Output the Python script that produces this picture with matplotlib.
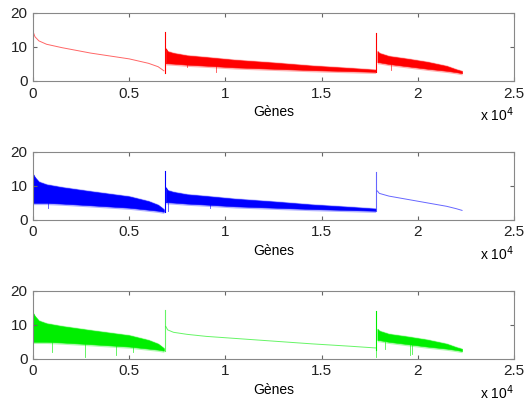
import numpy as np
import matplotlib
matplotlib.use('Agg')
from matplotlib import pyplot as plt

plt.rcParams['font.family'] = ['Liberation Sans', 'DejaVu Sans']

# segment 1 (genes 0 .. 6800)
seg1_x = [0, 100, 300, 700, 1500, 3000, 5000, 6000, 6500, 6800]
seg1_mid = [14.5, 13.0, 11.8, 10.8, 9.8, 8.2, 6.5, 5.2, 4.2, 3.0]
seg1_hi = [13.5, 12.5, 11.2, 10.4, 9.6, 8.4, 6.9, 5.5, 4.4, 3.1]
seg1_lo = [5.0, 5.0, 5.0, 5.0, 4.8, 4.3, 3.6, 3.0, 2.7, 2.4]

# segment 2 (genes 6850 .. 17800)
seg2_x = [6900, 7000, 7300, 8000, 9000, 10500, 12500, 14500, 16500, 17800]
seg2_mid = [9.5, 8.5, 7.8, 7.2, 6.6, 6.0, 5.2, 4.4, 3.7, 3.2]
seg2_hi = [9.6, 8.7, 8.2, 7.5, 7.0, 6.2, 5.4, 4.5, 3.8, 3.3]
seg2_lo = [5.2, 5.2, 5.1, 4.8, 4.5, 4.0, 3.6, 3.2, 2.9, 2.7]

# segment 3 (genes 17850 .. 22300)
seg3_x = [17900, 18000, 18500, 19500, 20500, 21500, 22000, 22300]
seg3_mid = [8.5, 7.8, 7.0, 6.0, 5.0, 4.0, 3.3, 2.8]
seg3_hi = [8.8, 8.2, 7.3, 6.5, 5.6, 4.4, 3.4, 2.9]
seg3_lo = [5.5, 5.5, 5.0, 4.3, 3.6, 3.0, 2.6, 2.3]

# spikes at the start of segments 2 and 3
jump_x = [6850, 17850]
jump_top = [14.5, 14.0]

# which segments are smooth in each panel
colors = ['#ff0000', '#0000ff', '#00ee00']
smooth_seg = [0, 2, 1]

# isolated downward spikes (panel, x, min value)
dip_panel = [0, 0, 0, 1, 1, 1, 2, 2, 2, 2, 2, 2, 2, 2]
dip_x = [8000, 9500, 18600, 7000, 9200, 800, 1000, 2700, 4300, 5200, 17850, 18300, 19600, 19700]
dip_y = [4.0, 2.5, 3.2, 2.5, 3.5, 3.5, 2.0, 0.5, 1.0, 2.0, 0.5, 3.0, 1.0, 1.5]

segs = [(seg1_x, seg1_mid, seg1_hi, seg1_lo),
        (seg2_x, seg2_mid, seg2_hi, seg2_lo),
        (seg3_x, seg3_mid, seg3_hi, seg3_lo)]

fig = plt.figure(figsize=(5.25, 4.05), dpi=100)
bottoms = [0.800, 0.457, 0.114]
for p in range(3):
    ax = fig.add_axes([0.063, bottoms[p], 0.916, 0.168])
    c = colors[p]
    for s, (x, mid, hi, lo) in enumerate(segs):
        if s == smooth_seg[p]:
            ax.plot(x, mid, color=c, lw=0.7, alpha=0.6)
        else:
            # ragged noise halo, then the dense core
            ax.fill_between(x, np.array(lo) - 0.5, np.array(hi) + 0.3,
                            color=c, lw=0, alpha=0.3)
            ax.fill_between(x, lo, hi, color=c, lw=0.4, edgecolor=c)
    # vertical jumps between segments
    ends = [seg1_lo[-1], seg2_lo[-1]]
    for j in range(2):
        a = 0.6 if smooth_seg[p] == j + 1 else 1.0
        ax.plot([jump_x[j], jump_x[j]], [ends[j], jump_top[j]], color=c, lw=0.8, alpha=a)
    for k in range(len(dip_x)):
        if dip_panel[k] == p:
            ax.plot([dip_x[k], dip_x[k]], [dip_y[k], 5], color=c, lw=0.6, alpha=0.7)
    ax.set_xlim(0, 25000)
    ax.set_ylim(0, 20)
    ax.set_yticks([0, 10, 20])
    ax.set_xticks([0, 5000, 10000, 15000, 20000, 25000])
    ax.set_xticklabels(['0', '0.5', '1', '1.5', '2', '2.5'])
    ax.tick_params(direction='in', top=True, right=True, length=3,
                   labelsize=11, color='#666666', pad=4, labelcolor='#222222')
    for sp in ax.spines.values():
        sp.set_color('#888888')
        sp.set_linewidth(0.8)
    ax.set_xlabel('Gènes', fontsize=10, labelpad=3)
    ax.text(1.0, -0.50, 'x 10$^4$', transform=ax.transAxes, ha='right',
            va='center', fontsize=10)

fig.savefig('out.png', dpi=100)
